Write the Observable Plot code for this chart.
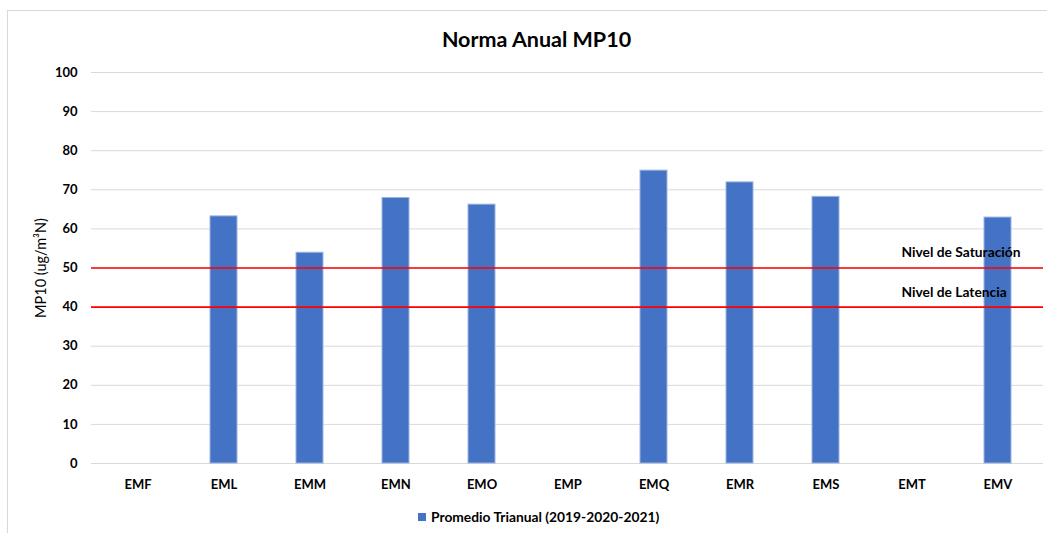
<!DOCTYPE html>
<html>
<head>
<meta charset="utf-8">
<script src="https://cdn.jsdelivr.net/npm/d3@7"></script>
<script src="https://cdn.jsdelivr.net/npm/@observablehq/plot@0.6"></script>
<style>
  body { margin: 0; background: #fff; font-family: Lato, "Open Sans", sans-serif; }
  #wrap { position: relative; width: 1047px; height: 533px; overflow: hidden; }
  #frame { position: absolute; left: 7px; top: 10px; width: 1045px; height: 530px; border: 1px solid #d9d9d9; box-sizing: border-box; }
  #title { position: absolute; top: 26px; left: 0; width: 1073px; text-align: center; font-weight: bold; font-size: 21.5px; color: #000; }
  #chart { position: absolute; left: 0; top: 50px; }
  #legend { position: absolute; top: 508px; left: 418px; font-size: 13.8px; font-weight: bold; color: #000; display: flex; align-items: center; white-space: nowrap; }
  #legend .sw { width: 8px; height: 8px; background: #4472C4; margin-right: 5px; }
  #chart g[aria-label="y-axis tick label"] { font-weight: bold; }
  #chart g[aria-label="y-axis label"] { font-weight: normal; font-size: 14.5px; }
</style>
</head>
<body>
<div id="wrap">
  <div id="frame"></div>
  <div id="title">Norma Anual MP10</div>
  <div id="chart"></div>
  <div id="legend"><span class="sw"></span><span id="legtext"></span></div>
</div>
<script>
const stations = ["EMF", "EML", "EMM", "EMN", "EMO", "EMP", "EMQ", "EMR", "EMS", "EMT", "EMV"];
const promedio = [null, 63.2, 53.9, 67.9, 66.2, null, 74.9, 71.9, 68.2, null, 62.9];
const seriesName = "Promedio Trianual (2019-2020-2021)";
const yTicks = [0, 10, 20, 30, 40, 50, 60, 70, 80, 90, 100];
const limits = [
  {value: 50, label: "Nivel de Saturación", labelY: 54},
  {value: 40, label: "Nivel de Latencia", labelY: 43.8}
];

const data = stations.map((s, i) => ({station: s, value: promedio[i]})).filter(d => d.value != null);

document.getElementById("legtext").textContent = seriesName;

const chart = Plot.plot({
  width: 1047,
  height: 450,
  marginLeft: 91,
  marginRight: 4,
  marginTop: 22,
  marginBottom: 37,
  style: {fontFamily: "Lato, 'Open Sans', sans-serif", fontSize: "13px", color: "#000", background: "transparent"},
  x: {domain: stations, paddingInner: 0.688, paddingOuter: 0.344, label: null},
  y: {domain: [0, 100], label: "MP10 (ug/m³N)"},
  marks: [
    Plot.gridY(yTicks, {stroke: "#d9d9d9", strokeOpacity: 1, strokeWidth: 1}),
    Plot.barY(data, {x: "station", y: "value", fill: "#4472C4", stroke: "#9db4e0", strokeWidth: 1}),
    Plot.ruleY(limits, {y: "value", stroke: "#ff0000", strokeWidth: 1.6}),
    Plot.text(limits, {y: "labelY", text: "label", frameAnchor: "left", textAnchor: "start", dx: 810, fontWeight: "bold", fontSize: 13.8, fill: "#000"}),
    Plot.axisY(yTicks, {tickSize: 0, tickPadding: 14, fontSize: 13, label: "MP10 (ug/m³N)", labelAnchor: "center", labelArrow: "none", labelOffset: 56}),
    Plot.axisX({tickSize: 0, tickPadding: 16, fontWeight: "bold", fontSize: 13, label: null})
  ]
});
document.getElementById("chart").appendChild(chart);
</script>
</body>
</html>
